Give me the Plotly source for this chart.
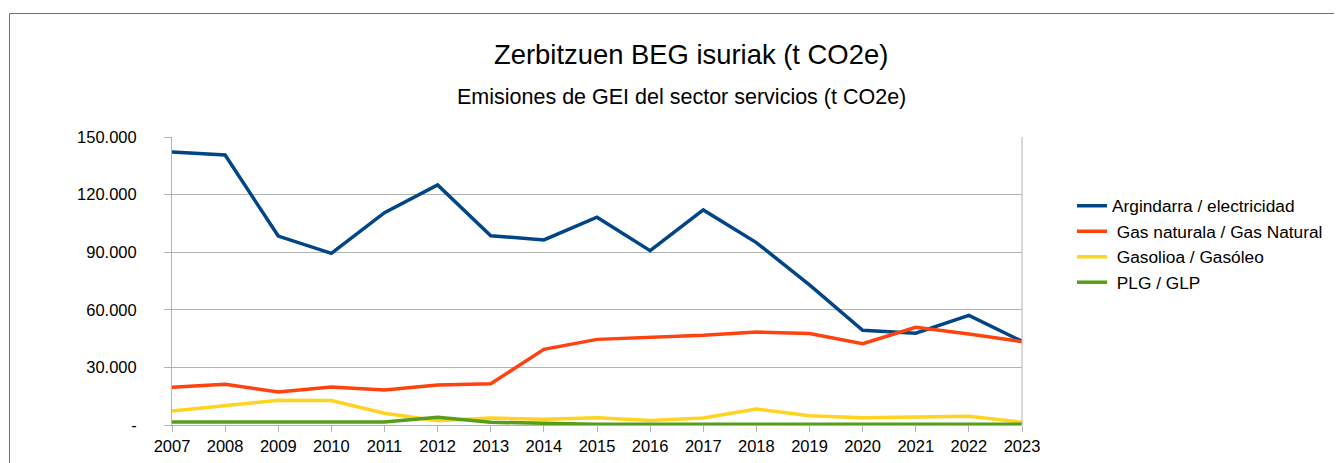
import plotly.graph_objects as go

years = list(range(2007, 2024))
electricidad = [142200, 140600, 98400, 89400, 110600, 125000, 98600, 96400, 108200,
                90800, 112000, 95000, 73000, 49300, 47800, 57100, 43600]
gas_natural = [19600, 21200, 17200, 19800, 18200, 20800, 21500, 39400, 44600,
               45700, 46700, 48400, 47600, 42300, 50900, 47400, 43400]
gasoleo = [7300, 10300, 12900, 12700, 6100, 2200, 3600, 3000, 3800,
           2400, 3600, 8300, 4800, 3800, 4200, 4500, 1400]
glp = [1600, 1600, 1600, 1600, 1600, 4000, 1400, 900, 400,
       400, 400, 400, 400, 400, 400, 400, 400]

names = ["Argindarra / electricidad", " Gas naturala / Gas Natural",
         " Gasolioa / Gasóleo", " PLG / GLP"]
colors = ["#004586", "#ff420e", "#ffd320", "#579d1c"]
series = [electricidad, gas_natural, gasoleo, glp]

ytickvals = [0, 30000, 60000, 90000, 120000, 150000]
yticktext = ["-", "30.000", "60.000", "90.000", "120.000", "150.000"]

title_main = "Zerbitzuen BEG isuriak (t CO2e)"
title_sub = "Emisiones de GEI del sector servicios (t CO2e)"

FONT = "Liberation Sans, Arial, sans-serif"

fig = go.Figure()
for name, col, vals in zip(names, colors, series):
    fig.add_trace(go.Scatter(x=years, y=vals, name=name, mode="lines",
                             line=dict(color=col, width=3.5)))

# plot area in screen pixels (page body has an 8px margin)
OFF = 8
L, R, T, B = 172, 1022, 137, 425
SW, SH = 1342, 463
W, H = SW - OFF, SH - OFF

def sx(px):
    return (px - L) / (R - L)

def sy(py):
    return (B - py) / (B - T)

fig.update_layout(
    width=W, height=H,
    margin=dict(l=L - OFF, r=SW - R, t=T - OFF, b=SH - B, pad=0, autoexpand=False),
    paper_bgcolor="white", plot_bgcolor="white",
    font=dict(family=FONT, color="#000000", size=16.5),
    showlegend=True,
    legend=dict(x=sx(1072), y=sy(188), xanchor="left", yanchor="top",
                font=dict(size=17.3, family=FONT), bgcolor="rgba(0,0,0,0)",
                tracegroupgap=0, itemwidth=30),
    xaxis=dict(range=[2007, 2023], tickvals=years, ticktext=[str(y) for y in years],
               showgrid=False, showline=True, linecolor="#b3b3b3", linewidth=1,
               ticks="outside", ticklen=6, tickcolor="#b3b3b3", automargin=False,
               tickfont=dict(size=16.5, family=FONT), mirror=False),
    yaxis=dict(range=[0, 150000], tickvals=ytickvals, ticktext=yticktext,
               showgrid=True, gridcolor="#b3b3b3", gridwidth=1,
               showline=True, linecolor="#b3b3b3", linewidth=1, automargin=False,
               ticks="outside", ticklen=7, tickcolor="#b3b3b3", ticklabelstandoff=24,
               tickfont=dict(size=16.5, family=FONT), zeroline=False),
    annotations=[
        dict(text=title_main, x=sx(690.5), y=sy(54), xref="paper", yref="paper",
             xanchor="center", yanchor="middle", showarrow=False, font=dict(size=27.4, family=FONT)),
        dict(text=title_sub, x=sx(681.5), y=sy(97), xref="paper", yref="paper",
             xanchor="center", yanchor="middle", showarrow=False, font=dict(size=21.5, family=FONT)),
    ],
    shapes=[
        # outer chart border
        dict(type="rect", xref="paper", yref="paper",
             x0=sx(9.5), x1=sx(1400), y0=sy(520), y1=sy(13.5),
             line=dict(color="#4a78b0", width=1), fillcolor="rgba(0,0,0,0)", layer="below"),
        # right plot border
        dict(type="line", xref="paper", yref="paper", x0=1, x1=1, y0=0, y1=1,
             line=dict(color="#b3b3b3", width=1)),
    ],
)

fig.write_html("out.html")
